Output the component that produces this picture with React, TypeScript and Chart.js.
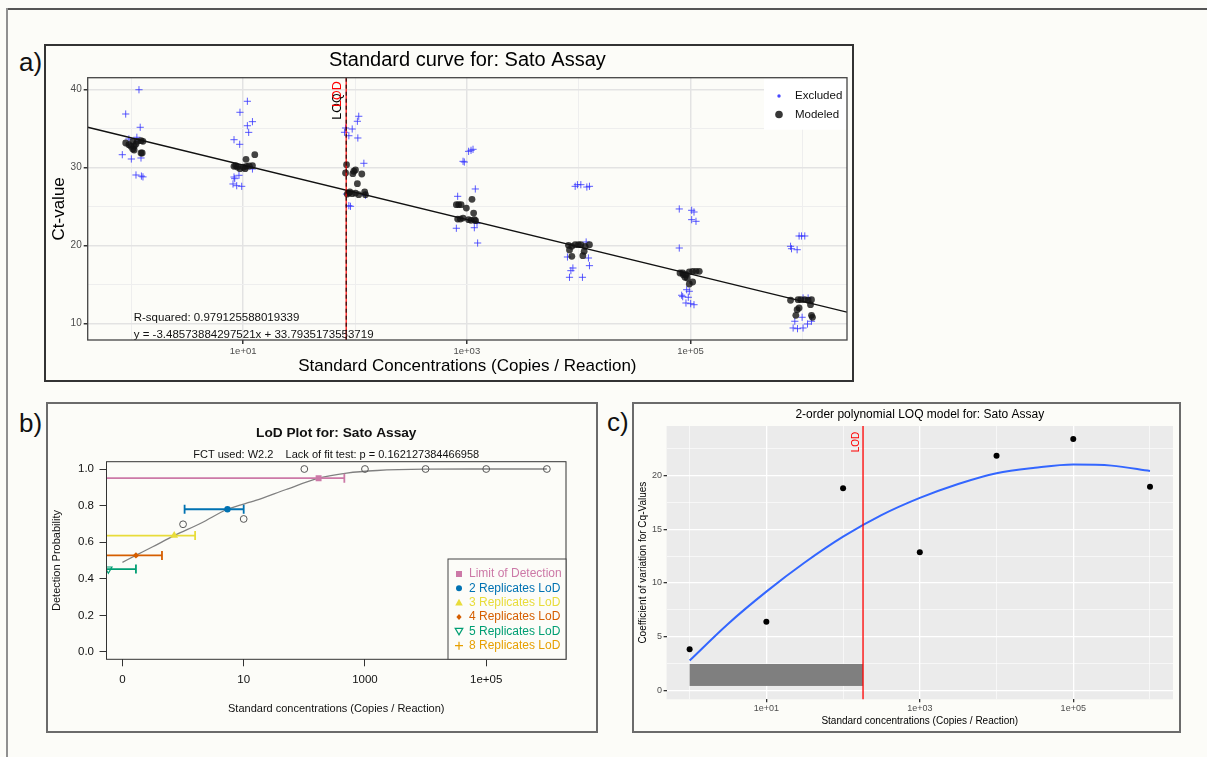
import React, { useEffect, useRef } from 'react';
import { Chart, registerables } from 'chart.js';

Chart.register(...registerables);

const FONT = "'Liberation Sans', Arial, Helvetica, sans-serif";
Chart.defaults.font.family = FONT;
const BG = '#fcfcf8';

// ---------------- Panel a : standard curve ----------------
const A_TITLE = 'Standard curve for: Sato Assay';
const A_X_TITLE = 'Standard Concentrations (Copies / Reaction)';
const A_Y_TITLE = 'Ct-value';
const A_X_TICKS = [1, 10, 100, 1000, 1e4, 1e5, 1e6];
const A_X_TICK_LABELS = ['', '1e+01', '', '1e+03', '', '1e+05', ''];
const A_Y_TICKS = [10, 15, 20, 25, 30, 35, 40];
const A_Y_TICK_LABELS = ['10', '', '20', '', '30', '', '40'];
const A_X_RANGE = [0.407, 2.51e6];
const A_Y_RANGE = [7.91, 41.5];
const A_SLOPE = -3.48573884297521;
const A_INTERCEPT = 33.7935173553719;
const A_LOD = 83.4;
const A_STATS = ['R-squared: 0.979125588019339', 'y = -3.48573884297521x + 33.7935173553719'];
const A_STATS_X = 1.05;
const A_STATS_Y = [10.77, 8.55];
const A_LEGEND = ['Excluded', 'Modeled'];

const A_EXCLUDED: [number, number][] = [
  [1.17, 39.96], [0.89, 36.85], [1.2, 35.15], [0.95, 33.65], [1.12, 33.87], [0.83, 31.64], [1.0, 31.09], [1.22, 31.22], [1.1, 29.04], [1.23, 28.9], [1.27, 28.8],
  [10.9, 38.48], [9.36, 37.07], [12.1, 35.87], [10.9, 35.35], [11.2, 34.5], [8.28, 33.56], [9.31, 32.97], [12.1, 29.81], [8.28, 28.78], [9.17, 29.0], [8.11, 27.89], [8.75, 27.67], [9.7, 27.59], [8.4, 28.57],
  [108, 36.56], [105, 35.92], [94.4, 34.93], [82.3, 35.06], [80.6, 34.51], [88.1, 34.07], [106, 33.78], [120, 30.54], [124, 26.44], [88.1, 25.11], [91.1, 25.03], [84.0, 26.6],
  [1037, 32.07], [1090, 32.2], [1136, 32.33], [925, 30.79], [950, 30.7], [1191, 27.25], [828, 26.31], [806, 22.22], [1167, 22.29], [1249, 20.33], [1233, 22.85],
  [9310, 27.59], [9750, 27.8], [10460, 27.8], [11840, 27.5], [12490, 27.59], [11670, 20.46], [7940, 18.54], [12230, 18.41], [12490, 17.43], [8880, 17.13], [8520, 16.79], [8280, 15.94], [10810, 15.94],
  [79400, 24.69], [102500, 24.52], [107500, 24.3], [102500, 23.32], [112000, 23.11], [79400, 19.69], [92500, 14.35], [97600, 14.15], [83400, 13.64], [85200, 13.46], [95600, 13.38], [91100, 12.65], [100400, 12.56], [107500, 12.43],
  [936000, 21.23], [984000, 21.23], [1052000, 21.23], [785000, 19.91], [801000, 19.6], [899000, 19.47], [1016000, 13.29], [1127000, 13.29], [857000, 10.31], [996000, 10.82], [1113000, 9.96], [1208000, 10.31], [828000, 9.45], [906000, 9.36], [1016000, 9.45],
];

const A_MODELED: [number, number][] = [
  [0.89, 33.14], [0.95, 32.92], [1.03, 33.35], [1.06, 32.71], [1.13, 33.35], [1.22, 33.43], [1.27, 33.35], [1.03, 32.37], [1.06, 32.24], [1.22, 31.86], [1.25, 31.86], [0.99, 32.71], [1.1, 33.0],
  [8.28, 30.15], [8.88, 30.06], [9.36, 29.85], [10.0, 30.03], [10.7, 30.15], [11.3, 30.19], [12.1, 30.23], [10.6, 31.05], [12.7, 31.64], [10.4, 29.85], [8.57, 30.23],
  [84.0, 30.36], [82.3, 29.3], [95.6, 29.21], [97.6, 29.52], [101, 29.68], [115, 29.17], [105, 27.93], [85.2, 26.6], [89.9, 26.86], [94.4, 26.65], [101, 26.73], [108, 26.52], [122, 26.86], [124, 26.52], [88.1, 26.73],
  [806, 25.24], [845, 25.24], [888, 25.24], [990, 24.81], [1112, 25.93], [1150, 24.17], [828, 23.4], [875, 23.4], [925, 23.53], [1037, 23.32], [1090, 23.24], [1167, 23.32], [1198, 23.19],
  [8110, 20.04], [8690, 19.91], [9310, 20.12], [9960, 20.12], [10460, 20.12], [11430, 19.91], [12490, 20.12], [8280, 19.44], [8690, 18.63], [10900, 18.71], [11200, 19.27],
  [80600, 16.49], [85200, 16.49], [91100, 16.27], [97600, 16.62], [104600, 16.71], [112000, 16.71], [119800, 16.71], [89300, 15.94], [97600, 15.08], [104600, 15.34], [93600, 15.85], [86300, 16.27],
  [785000, 13.0], [917000, 13.07], [970000, 13.07], [1052000, 13.07], [1127000, 13.0], [1208000, 13.07], [1184000, 12.43], [936000, 12.01], [899000, 11.79], [875000, 11.07], [1208000, 11.07], [1233000, 10.82],
];

// ---------------- Panel b : LoD plot ----------------
const B_TITLE = 'LoD Plot for: Sato Assay';
const B_SUBTITLE = 'FCT used: W2.2    Lack of fit test: p = 0.162127384466958';
const B_X_TITLE = 'Standard concentrations (Copies / Reaction)';
const B_Y_TITLE = 'Detection Probability';
const B_X_TICKS = [0.1, 10, 1000, 1e5];
const B_X_TICK_LABELS = ['0', '10', '1000', '1e+05'];
const B_Y_TICKS = [0, 0.2, 0.4, 0.6, 0.8, 1.0];
const B_Y_TICK_LABELS = ['0.0', '0.2', '0.4', '0.6', '0.8', '1.0'];
const B_X_RANGE = [0.0546, 2.07e6];
const B_Y_RANGE = [-0.04, 1.04];
const B_OBS_X = [1, 10, 100, 1000, 1e4, 1e5, 1e6];
const B_OBS_P = [0.698, 0.727, 1, 1, 1, 1, 1];
const B_CURVE_X = [0.1, 0.166, 0.316, 0.714, 2.0, 5.4, 15.8, 50.1, 172, 501, 1585, 1e4, 1e5, 1e6];
const B_CURVE_P = [0.49, 0.528, 0.575, 0.636, 0.705, 0.78, 0.828, 0.888, 0.95, 0.978, 0.992, 0.999, 1.0, 1.0];
const B_LOD_LABELS = ['Limit of Detection', '2 Replicates LoD', '3 Replicates LoD', '4 Replicates LoD', '5 Replicates LoD', '8 Replicates LoD'];
const B_LOD_COLORS = ['#cc79a7', '#0072b2', '#e8dc3a', '#d55e00', '#009e73', '#e69f00'];
const B_LOD_X = [172, 5.4, 0.714, 0.167, 0.0585];
const B_LOD_P = [0.95, 0.78, 0.636, 0.528, 0.453];
const B_LOD_LO = [0.001, 1.06, 0.001, 0.001, 0.001];
const B_LOD_HI = [457, 10, 1.58, 0.449, 0.167];
const B_LOD_STYLES = ['rect', 'circle', 'triangle', 'rectRot', 'triangle'];
const B_LOD_ROT = [0, 0, 0, 0, 180];
const B_LOD_RADIUS = [4.2, 3.2, 4.5, 3.2, 4.2];
const B_LOD_FILLED = [true, true, true, true, false];
const B_LEGEND_MARKERS = ['square', 'circle', 'triangle', 'diamond', 'triangleDownOpen', 'plus'];

// ---------------- Panel c : LOQ model ----------------
const C_TITLE = '2-order polynomial LOQ model for: Sato Assay';
const C_X_TITLE = 'Standard concentrations (Copies / Reaction)';
const C_Y_TITLE = 'Coefficient of variation for Cq-Values';
const C_X_TICKS = [1, 10, 100, 1000, 1e4, 1e5, 1e6];
const C_X_TICK_LABELS = ['', '1e+01', '', '1e+03', '', '1e+05', ''];
const C_Y_TICKS = [0, 2.5, 5, 7.5, 10, 12.5, 15, 17.5, 20, 22.5];
const C_Y_TICK_LABELS = ['0', '', '5', '', '10', '', '15', '', '20', ''];
const C_X_RANGE = [0.501, 1.995e6];
const C_Y_RANGE = [-0.8, 24.58];
const C_CV_X = [1, 10, 100, 1000, 1e4, 1e5, 1e6];
const C_CV_Y = [3.84, 6.41, 18.79, 12.85, 21.82, 23.37, 18.94];
const C_CURVE_X = [1, 3.16, 10, 31.6, 100, 316, 1000, 3162, 1e4, 31623, 1e5, 316228, 1e6];
const C_CURVE_Y = [2.8, 6.2, 9.2, 11.9, 14.3, 16.3, 17.9, 19.2, 20.2, 20.7, 21.0, 20.9, 20.4];
const C_LOD = 182;
const C_RECT_X = [1, 182];
const C_RECT_Y = [0.44, 2.48];

// ---------------- helpers ----------------
function drawRotated(ctx: any, text: string, x: number, y: number, color: string, font: string) {
  ctx.save();
  ctx.translate(x, y);
  ctx.rotate(-Math.PI / 2);
  ctx.font = font;
  ctx.fillStyle = color;
  ctx.textAlign = 'right';
  ctx.textBaseline = 'middle';
  ctx.fillText(text, 0, 0);
  ctx.restore();
}

function drawMarker(ctx: any, kind: string, x: number, y: number, color: string) {
  ctx.save();
  ctx.fillStyle = color;
  ctx.strokeStyle = color;
  ctx.lineWidth = 1.2;
  ctx.beginPath();
  if (kind === 'square') {
    ctx.rect(x - 3, y - 3, 6, 6);
    ctx.fill();
  } else if (kind === 'circle') {
    ctx.arc(x, y, 3, 0, Math.PI * 2);
    ctx.fill();
  } else if (kind === 'triangle') {
    ctx.moveTo(x, y - 4);
    ctx.lineTo(x + 3.8, y + 2.8);
    ctx.lineTo(x - 3.8, y + 2.8);
    ctx.closePath();
    ctx.fill();
  } else if (kind === 'diamond') {
    ctx.moveTo(x, y - 3);
    ctx.lineTo(x + 2.6, y);
    ctx.lineTo(x, y + 3);
    ctx.lineTo(x - 2.6, y);
    ctx.closePath();
    ctx.fill();
  } else if (kind === 'triangleDownOpen') {
    ctx.moveTo(x, y + 3.6);
    ctx.lineTo(x + 3.8, y - 3);
    ctx.lineTo(x - 3.8, y - 3);
    ctx.closePath();
    ctx.stroke();
  } else if (kind === 'plus') {
    ctx.moveTo(x - 4, y);
    ctx.lineTo(x + 4, y);
    ctx.moveTo(x, y - 4);
    ctx.lineTo(x, y + 4);
    ctx.stroke();
  }
  ctx.restore();
}

function fixedTicks(values: number[]) {
  return (axis: any) => {
    axis.ticks = values.map((v) => ({ value: v }));
  };
}

// ---------------- configs ----------------
function buildA(): any {
  const aPlugin = {
    id: 'panelA',
    afterDatasetsDraw(chart: any) {
      const { ctx, chartArea: ca, scales } = chart;
      const lx = scales.x.getPixelForValue(A_LOD);
      ctx.save();
      ctx.lineWidth = 1.2;
      ctx.strokeStyle = '#ff0000';
      ctx.beginPath();
      ctx.moveTo(lx, ca.top);
      ctx.lineTo(lx, ca.bottom);
      ctx.stroke();
      ctx.setLineDash([4, 3]);
      ctx.strokeStyle = '#000000';
      ctx.lineWidth = 1;
      ctx.beginPath();
      ctx.moveTo(lx, ca.top);
      ctx.lineTo(lx, ca.bottom);
      ctx.stroke();
      ctx.restore();
      drawRotated(ctx, 'LOQ', lx - 9, ca.top + 15.6, '#000000', `12.5px ${FONT}`);
      drawRotated(ctx, 'LOD', lx - 9, ca.top + 3.6, '#ff0000', `12.5px ${FONT}`);
      ctx.save();
      ctx.font = `11.5px ${FONT}`;
      ctx.fillStyle = '#111111';
      ctx.textAlign = 'left';
      ctx.textBaseline = 'middle';
      const sx = scales.x.getPixelForValue(A_STATS_X);
      A_STATS.forEach((t, i) => ctx.fillText(t, sx, scales.y.getPixelForValue(A_STATS_Y[i])));
      ctx.restore();
    },
    afterDraw(chart: any) {
      const { ctx, chartArea: ca } = chart;
      ctx.save();
      // legend
      ctx.fillStyle = '#ffffff';
      ctx.fillRect(ca.right - 83, ca.top + 1, 83, 51);
      ctx.fillStyle = 'rgba(40,40,255,0.85)';
      ctx.beginPath();
      ctx.arc(ca.right - 68, ca.top + 18.3, 1.7, 0, Math.PI * 2);
      ctx.fill();
      ctx.fillStyle = 'rgba(20,20,20,0.85)';
      ctx.beginPath();
      ctx.arc(ca.right - 68, ca.top + 36.8, 3.8, 0, Math.PI * 2);
      ctx.fill();
      ctx.font = `11.5px ${FONT}`;
      ctx.fillStyle = '#111111';
      ctx.textAlign = 'left';
      ctx.textBaseline = 'middle';
      ctx.fillText(A_LEGEND[0], ca.right - 52, ca.top + 18.3);
      ctx.fillText(A_LEGEND[1], ca.right - 52, ca.top + 36.8);
      // panel border
      ctx.strokeStyle = '#444444';
      ctx.lineWidth = 1.3;
      ctx.strokeRect(ca.left, ca.top, ca.right - ca.left, ca.bottom - ca.top);
      // title
      ctx.font = `20px ${FONT}`;
      ctx.fillStyle = '#000000';
      ctx.textAlign = 'center';
      ctx.fillText(A_TITLE, (ca.left + ca.right) / 2, ca.top - 17.7);
      ctx.restore();
    },
  };
  const fitX = [A_X_RANGE[0], A_X_RANGE[1]];
  const isMajorX = (i: number) => A_X_TICK_LABELS[i] !== '';
  const isMajorY = (i: number) => A_Y_TICK_LABELS[i] !== '';
  return {
    type: 'scatter',
    data: {
      datasets: [
        {
          label: 'fit',
          data: fitX.map((x) => ({ x, y: A_INTERCEPT + A_SLOPE * Math.log10(x) })),
          showLine: true,
          borderColor: '#111111',
          borderWidth: 1.3,
          pointRadius: 0,
          order: 0,
        },
        {
          label: 'Modeled',
          data: A_MODELED.map(([x, y]) => ({ x, y })),
          pointStyle: 'circle',
          pointRadius: 3.4,
          backgroundColor: 'rgba(20,20,20,0.8)',
          borderWidth: 0,
          order: 1,
        },
        {
          label: 'Excluded',
          data: A_EXCLUDED.map(([x, y]) => ({ x, y })),
          pointStyle: 'cross',
          pointRadius: 3.6,
          borderColor: 'rgba(50,50,255,0.8)',
          borderWidth: 1,
          order: 2,
        },
      ],
    },
    options: {
      animation: false,
      responsive: false,
      devicePixelRatio: 1,
      events: [],
      layout: { padding: { left: 0, right: 4.7, top: 31.7, bottom: 0 } },
      plugins: { legend: { display: false }, tooltip: { enabled: false }, title: { display: false } },
      scales: {
        x: {
          type: 'logarithmic',
          min: A_X_RANGE[0],
          max: A_X_RANGE[1],
          afterBuildTicks: fixedTicks(A_X_TICKS),
          afterFit: (s: any) => { s.height = 40; },
          border: { display: false },
          grid: {
            color: (c: any) => (isMajorX(c.index) ? '#e3e3e3' : '#eeeeee'),
            lineWidth: (c: any) => (isMajorX(c.index) ? 1.5 : 1),
            tickColor: (c: any) => (isMajorX(c.index) ? '#333333' : 'rgba(0,0,0,0)'),
            tickLength: 4,
          },
          ticks: {
            autoSkip: false, maxRotation: 0, minRotation: 0, padding: 2,
            color: '#4d4d4d', font: { size: 9.5 },
            callback: (_v: any, i: number) => A_X_TICK_LABELS[i],
          },
          title: { display: true, text: A_X_TITLE, color: '#000000', font: { size: 17 }, padding: { top: 0, bottom: 3.1 } },
        },
        y: {
          type: 'linear',
          min: A_Y_RANGE[0],
          max: A_Y_RANGE[1],
          afterBuildTicks: fixedTicks(A_Y_TICKS),
          afterFit: (s: any) => { s.width = 41.7; },
          border: { display: false },
          grid: {
            color: (c: any) => (isMajorY(c.index) ? '#e3e3e3' : '#eeeeee'),
            lineWidth: (c: any) => (isMajorY(c.index) ? 1.5 : 1),
            tickColor: (c: any) => (isMajorY(c.index) ? '#333333' : 'rgba(0,0,0,0)'),
            tickLength: 4,
          },
          ticks: {
            autoSkip: false, padding: 2, color: '#4d4d4d', font: { size: 10 },
            callback: (_v: any, i: number) => A_Y_TICK_LABELS[i],
          },
          title: { display: true, text: A_Y_TITLE, color: '#000000', font: { size: 17 }, padding: { top: 3.3, bottom: 0 } },
        },
      },
    },
    plugins: [aPlugin],
  };
}

function buildB(): any {
  const bPlugin = {
    id: 'panelB',
    afterDraw(chart: any) {
      const { ctx, chartArea: ca } = chart;
      ctx.save();
      ctx.strokeStyle = '#333333';
      ctx.lineWidth = 1;
      ctx.strokeRect(ca.left, ca.top, ca.right - ca.left, ca.bottom - ca.top);
      const cx = (ca.left + ca.right) / 2;
      ctx.fillStyle = '#111111';
      ctx.textAlign = 'center';
      ctx.textBaseline = 'middle';
      ctx.font = `bold 13.7px ${FONT}`;
      ctx.fillText(B_TITLE, cx, ca.top - 28.7);
      ctx.font = `11px ${FONT}`;
      ctx.fillText(B_SUBTITLE, cx, ca.top - 6.7);
      // legend
      const w = 118;
      const h = 100.3;
      const lx0 = ca.right - w;
      const ly0 = ca.bottom - h;
      ctx.fillStyle = BG;
      ctx.fillRect(lx0, ly0, w, h);
      ctx.strokeStyle = '#444444';
      ctx.strokeRect(lx0, ly0, w, h);
      ctx.font = `12px ${FONT}`;
      ctx.textAlign = 'left';
      B_LOD_LABELS.forEach((lab, i) => {
        const y = ca.bottom - 85.3 + i * 14.33;
        drawMarker(ctx, B_LEGEND_MARKERS[i], ca.right - 107, y, B_LOD_COLORS[i]);
        ctx.fillStyle = B_LOD_COLORS[i];
        ctx.fillText(lab, ca.right - 97, y);
      });
      ctx.restore();
    },
  };
  const datasets: any[] = [
    {
      label: 'curve',
      data: B_CURVE_X.map((x, i) => ({ x, y: B_CURVE_P[i] })),
      showLine: true,
      cubicInterpolationMode: 'monotone',
      borderColor: '#808080',
      borderWidth: 1.3,
      pointRadius: 0,
      order: 6,
    },
    {
      label: 'observed',
      data: B_OBS_X.map((x, i) => ({ x, y: B_OBS_P[i] })),
      pointStyle: 'circle',
      pointRadius: 3.4,
      borderColor: '#555555',
      backgroundColor: 'rgba(0,0,0,0)',
      borderWidth: 1,
      order: 5,
    },
  ];
  B_LOD_X.forEach((x, i) => {
    datasets.push({
      label: B_LOD_LABELS[i] + ' CI',
      data: [{ x: B_LOD_LO[i], y: B_LOD_P[i] }, { x: B_LOD_HI[i], y: B_LOD_P[i] }],
      showLine: true,
      borderColor: B_LOD_COLORS[i],
      borderWidth: 1.8,
      pointStyle: 'line',
      pointRotation: 90,
      pointRadius: 4.5,
      pointBorderColor: B_LOD_COLORS[i],
      pointBorderWidth: 1.8,
      order: 3,
    });
    datasets.push({
      label: B_LOD_LABELS[i],
      data: [{ x, y: B_LOD_P[i] }],
      pointStyle: B_LOD_STYLES[i],
      pointRotation: B_LOD_ROT[i],
      pointRadius: B_LOD_RADIUS[i],
      backgroundColor: B_LOD_FILLED[i] ? B_LOD_COLORS[i] : 'rgba(0,0,0,0)',
      borderColor: B_LOD_COLORS[i],
      borderWidth: B_LOD_FILLED[i] ? 0 : 1.2,
      order: 1,
    });
  });
  return {
    type: 'scatter',
    data: { datasets },
    options: {
      animation: false,
      responsive: false,
      devicePixelRatio: 1,
      events: [],
      layout: { padding: { left: 0, right: 30, top: 57.7, bottom: 0 } },
      plugins: { legend: { display: false }, tooltip: { enabled: false }, title: { display: false } },
      scales: {
        x: {
          type: 'logarithmic',
          min: B_X_RANGE[0],
          max: B_X_RANGE[1],
          afterBuildTicks: fixedTicks(B_X_TICKS),
          afterFit: (s: any) => { s.height = 71.7; },
          border: { display: false },
          grid: { drawOnChartArea: false, color: '#333333', tickColor: '#333333', tickLength: 7, lineWidth: 1 },
          ticks: {
            autoSkip: false, maxRotation: 0, minRotation: 0, padding: 7,
            color: '#111111', font: { size: 11.5 },
            callback: (_v: any, i: number) => B_X_TICK_LABELS[i],
          },
          title: { display: true, text: B_X_TITLE, color: '#111111', font: { size: 11 }, padding: { top: 0, bottom: 15.4 } },
        },
        y: {
          type: 'linear',
          min: B_Y_RANGE[0],
          max: B_Y_RANGE[1],
          afterBuildTicks: fixedTicks(B_Y_TICKS),
          afterFit: (s: any) => { s.width = 58.5; },
          border: { display: false },
          grid: { drawOnChartArea: false, color: '#333333', tickColor: '#333333', tickLength: 7, lineWidth: 1 },
          ticks: {
            autoSkip: false, padding: 5.5, color: '#111111', font: { size: 11.5 },
            callback: (_v: any, i: number) => B_Y_TICK_LABELS[i],
          },
          title: { display: true, text: B_Y_TITLE, color: '#111111', font: { size: 11 }, padding: { top: 2.4, bottom: 0 } },
        },
      },
    },
    plugins: [bPlugin],
  };
}

function buildC(): any {
  const cPlugin = {
    id: 'panelC',
    beforeDraw(chart: any) {
      const { ctx, chartArea: ca } = chart;
      ctx.save();
      ctx.fillStyle = '#ebebeb';
      ctx.fillRect(ca.left, ca.top, ca.right - ca.left, ca.bottom - ca.top);
      ctx.restore();
    },
    beforeDatasetsDraw(chart: any) {
      const { ctx, scales } = chart;
      const x0 = scales.x.getPixelForValue(C_RECT_X[0]);
      const x1 = scales.x.getPixelForValue(C_RECT_X[1]);
      const y0 = scales.y.getPixelForValue(C_RECT_Y[1]);
      const y1 = scales.y.getPixelForValue(C_RECT_Y[0]);
      ctx.save();
      ctx.fillStyle = '#7f7f7f';
      ctx.fillRect(x0, y0, x1 - x0, y1 - y0);
      ctx.restore();
    },
    afterDatasetsDraw(chart: any) {
      const { ctx, chartArea: ca, scales } = chart;
      const lx = scales.x.getPixelForValue(C_LOD);
      ctx.save();
      ctx.strokeStyle = '#ff0000';
      ctx.lineWidth = 1.3;
      ctx.beginPath();
      ctx.moveTo(lx, ca.top);
      ctx.lineTo(lx, ca.bottom);
      ctx.stroke();
      ctx.restore();
      drawRotated(ctx, 'LOD', lx - 7, ca.top + 5.7, '#ff0000', `10px ${FONT}`);
    },
    afterDraw(chart: any) {
      const { ctx, chartArea: ca } = chart;
      ctx.save();
      ctx.font = `12px ${FONT}`;
      ctx.fillStyle = '#000000';
      ctx.textAlign = 'center';
      ctx.textBaseline = 'middle';
      ctx.fillText(C_TITLE, (ca.left + ca.right) / 2, ca.top - 11);
      ctx.restore();
    },
  };
  const isMajorX = (i: number) => C_X_TICK_LABELS[i] !== '';
  const isMajorY = (i: number) => C_Y_TICK_LABELS[i] !== '';
  return {
    type: 'scatter',
    data: {
      datasets: [
        {
          label: 'cv',
          data: C_CV_X.map((x, i) => ({ x, y: C_CV_Y[i] })),
          pointStyle: 'circle',
          pointRadius: 3,
          backgroundColor: '#000000',
          borderWidth: 0,
          order: 0,
        },
        {
          label: 'model',
          data: C_CURVE_X.map((x, i) => ({ x, y: C_CURVE_Y[i] })),
          showLine: true,
          cubicInterpolationMode: 'monotone',
          borderColor: '#3366ff',
          borderWidth: 2,
          pointRadius: 0,
          order: 1,
        },
      ],
    },
    options: {
      animation: false,
      responsive: false,
      devicePixelRatio: 1,
      events: [],
      layout: { padding: { left: 0, right: 6, top: 22, bottom: 0 } },
      plugins: { legend: { display: false }, tooltip: { enabled: false }, title: { display: false } },
      scales: {
        x: {
          type: 'logarithmic',
          min: C_X_RANGE[0],
          max: C_X_RANGE[1],
          afterBuildTicks: fixedTicks(C_X_TICKS),
          afterFit: (s: any) => { s.height = 31.7; },
          border: { display: false },
          grid: {
            color: '#ffffff',
            lineWidth: (c: any) => (isMajorX(c.index) ? 1.3 : 0.6),
            tickColor: (c: any) => (isMajorX(c.index) ? '#333333' : 'rgba(0,0,0,0)'),
            tickLength: 3,
          },
          ticks: {
            autoSkip: false, maxRotation: 0, minRotation: 0, padding: 1,
            color: '#4d4d4d', font: { size: 9 },
            callback: (_v: any, i: number) => C_X_TICK_LABELS[i],
          },
          title: { display: true, text: C_X_TITLE, color: '#000000', font: { size: 10 }, padding: { top: 0, bottom: 4 } },
        },
        y: {
          type: 'linear',
          min: C_Y_RANGE[0],
          max: C_Y_RANGE[1],
          afterBuildTicks: fixedTicks(C_Y_TICKS),
          afterFit: (s: any) => { s.width = 32.6; },
          border: { display: false },
          grid: {
            color: '#ffffff',
            lineWidth: (c: any) => (isMajorY(c.index) ? 1.3 : 0.6),
            tickColor: (c: any) => (isMajorY(c.index) ? '#333333' : 'rgba(0,0,0,0)'),
            tickLength: 3,
          },
          ticks: {
            autoSkip: false, padding: 1.6, color: '#4d4d4d', font: { size: 9 },
            callback: (_v: any, i: number) => C_Y_TICK_LABELS[i],
          },
          title: { display: true, text: C_Y_TITLE, color: '#000000', font: { size: 10 }, padding: { top: 3, bottom: 0 } },
        },
      },
    },
    plugins: [cPlugin],
  };
}

function ChartCanvas({ left, top, width, height, build }: any) {
  const ref = useRef<HTMLCanvasElement | null>(null);
  useEffect(() => {
    if (!ref.current) return;
    const chart = new Chart(ref.current, build());
    return () => chart.destroy();
  }, []);
  return (
    <canvas
      ref={ref}
      width={width}
      height={height}
      style={{ position: 'absolute', left, top, width, height }}
    />
  );
}

const labelStyle = (left: number, top: number): any => ({
  position: 'absolute',
  left,
  top,
  fontFamily: FONT,
  fontSize: 26,
  lineHeight: '26px',
  color: '#111111',
});

export default function App() {
  return (
    <div style={{ position: 'absolute', left: 0, top: 0, width: 1207, height: 757, background: BG, overflow: 'hidden' }}>
      <div style={{ position: 'absolute', left: 7, top: 8, width: 1200, height: 2, background: '#555555' }} />
      <div style={{ position: 'absolute', left: 6, top: 8, width: 2, height: 749, background: '#909090' }} />

      <div style={{ position: 'absolute', left: 44, top: 44, width: 810, height: 338, border: '2px solid #333333', boxSizing: 'border-box' }} />
      <div style={{ position: 'absolute', left: 46, top: 402, width: 552, height: 331, border: '2px solid #6b6b6b', boxSizing: 'border-box' }} />
      <div style={{ position: 'absolute', left: 632, top: 402, width: 549, height: 331, border: '2px solid #6b6b6b', boxSizing: 'border-box' }} />

      <div style={labelStyle(19, 49)}>a)</div>
      <div style={labelStyle(19, 410)}>b)</div>
      <div style={labelStyle(607, 409)}>c)</div>

      <ChartCanvas left={46} top={46} width={806} height={334} build={buildA} />
      <ChartCanvas left={48} top={404} width={548} height={327} build={buildB} />
      <ChartCanvas left={634} top={404} width={545} height={327} build={buildC} />
    </div>
  );
}
